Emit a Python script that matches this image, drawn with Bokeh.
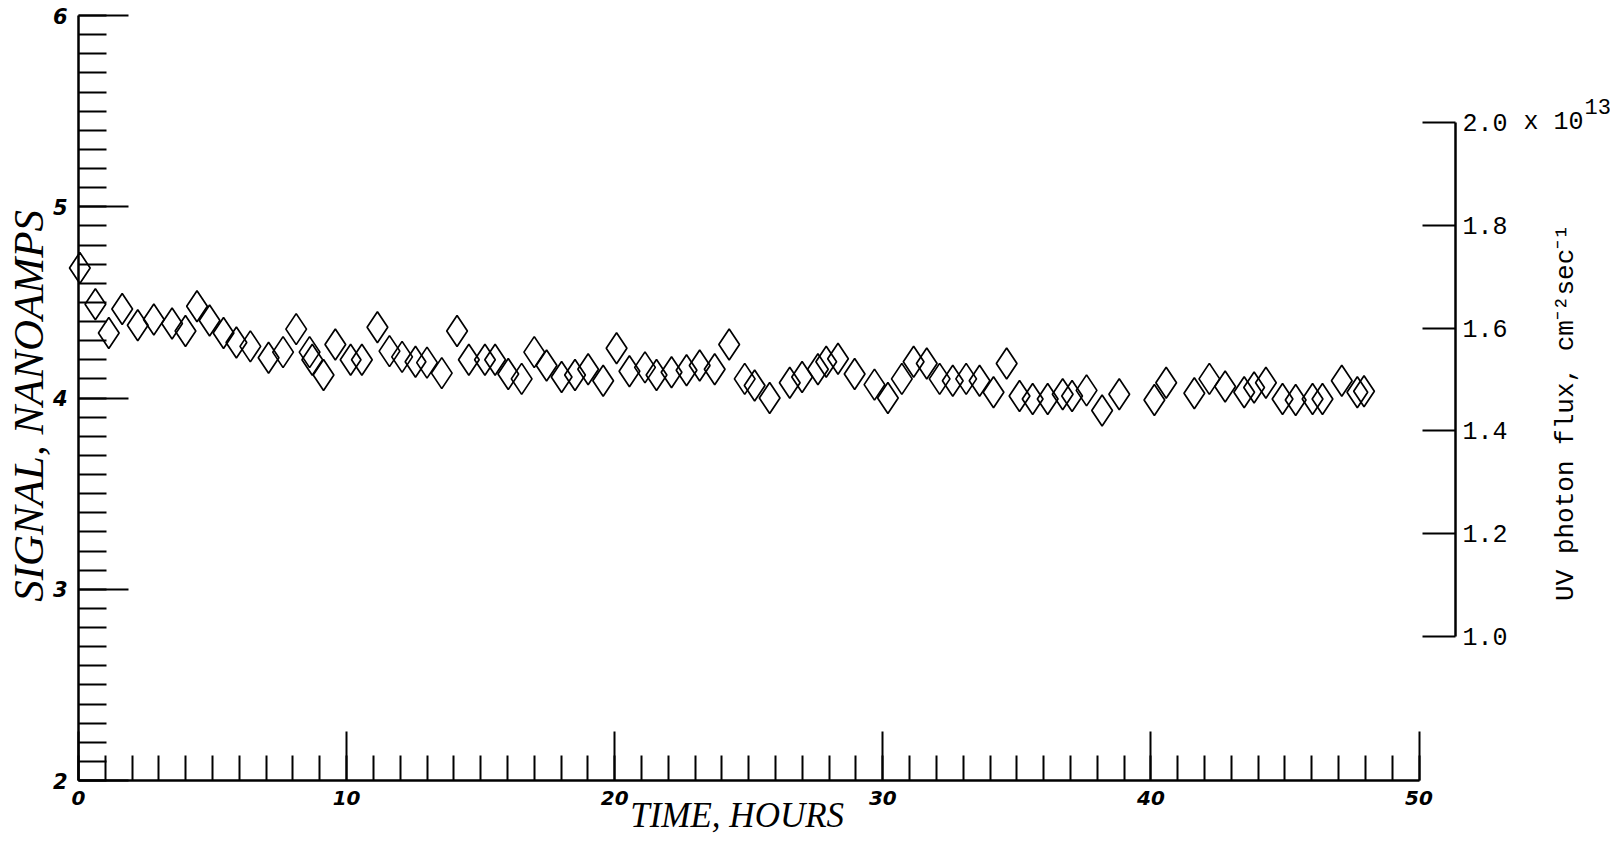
import math
from bokeh.plotting import figure
from bokeh.models import (Range1d, LinearAxis, FixedTicker, Label,
                          ColumnDataSource, PrintfTickFormatter)
from bokeh.embed import file_html
from bokeh.resources import INLINE

# ---------------- data ----------------
time_hours = [0.05, 0.63, 1.13, 1.63, 2.21, 2.81, 3.49, 3.99, 4.42, 4.89,
              5.41, 5.89, 6.41, 7.09, 7.63, 8.12, 8.62, 8.72, 9.14, 9.58,
              10.15, 10.57, 11.15, 11.60, 12.07, 12.57, 13.00, 13.55, 14.12, 14.56,
              15.16, 15.54, 16.03, 16.53, 17.00, 17.46, 18.02, 18.52, 19.01, 19.57,
              20.07, 20.55, 21.13, 21.56, 22.12, 22.68, 23.17, 23.73, 24.27, 24.85,
              25.22, 25.78, 26.53, 26.99, 27.58, 27.89, 28.33, 28.95, 29.69, 30.19,
              30.71, 31.15, 31.64, 32.12, 32.61, 33.11, 33.61, 34.13, 34.62, 35.10,
              35.59, 36.15, 36.71, 37.06, 37.60, 38.18, 38.82, 40.13, 40.57, 41.62,
              42.18, 42.77, 43.48, 43.85, 44.29, 44.91, 45.40, 46.03, 46.40, 47.12,
              47.70, 47.95]
signal_na = [4.68, 4.49, 4.34, 4.465, 4.38, 4.41, 4.39, 4.35, 4.48, 4.405,
             4.34, 4.29, 4.27, 4.21, 4.24, 4.36, 4.24, 4.20, 4.12, 4.28,
             4.20, 4.20, 4.37, 4.245, 4.215, 4.19, 4.185, 4.13, 4.35, 4.20,
             4.20, 4.20, 4.125, 4.10, 4.24, 4.17, 4.11, 4.12, 4.15, 4.09,
             4.26, 4.14, 4.16, 4.12, 4.135, 4.145, 4.17, 4.15, 4.28, 4.10,
             4.065, 4.00, 4.08, 4.11, 4.15, 4.19, 4.205, 4.125, 4.07, 4.00,
             4.10, 4.19, 4.18, 4.10, 4.09, 4.10, 4.09, 4.03, 4.18, 4.01,
             3.995, 3.995, 4.02, 4.01, 4.04, 3.935, 4.02, 3.99, 4.08, 4.025,
             4.10, 4.06, 4.03, 4.055, 4.08, 3.995, 3.99, 3.995, 3.995, 4.09,
             4.03, 4.035]

x_major_ticks = [0, 10, 20, 30, 40, 50]
x_minor_ticks = list(range(0, 51))
y_major_ticks = [2, 3, 4, 5, 6]
y_minor_ticks = [round(2 + 0.1 * i, 1) for i in range(41)]
flux_ticks = [1.0, 1.2, 1.4, 1.6, 1.8, 2.0]
flux_exponent_text = "x 10"
flux_exponent_power = "13"

x_label = "TIME,  HOURS"
y_label = "SIGNAL,  NANOAMPS"
flux_label = "UV photon flux, cm\u207b\u00b2sec\u207b\u00b9"

# ---------------- layout (pixel geometry of the page) ----------------
W, H = 1610, 838
X0_PX, X_PER_UNIT = 78, 26.81          # x = 0 h at 78 px
Y2_PX, Y_PER_UNIT = 780, 191.25        # signal = 2 at 780 px
F1_PX, F_PER_UNIT = 636, 514           # flux = 1.0 at 636 px
FLUX_AXIS_PX = 1455

x_start = -X0_PX / X_PER_UNIT
x_end = (W - X0_PX) / X_PER_UNIT
y_start = 2 - (H - Y2_PX) / Y_PER_UNIT
y_end = 2 + Y2_PX / Y_PER_UNIT
f_start = 1.0 - (H - F1_PX) / F_PER_UNIT
f_end = 1.0 + F1_PX / F_PER_UNIT

def xd(px):
    return (px - X0_PX) / X_PER_UNIT

def yd(px):
    return 2 + (Y2_PX - px) / Y_PER_UNIT

p = figure(width=W, height=H,
           x_range=Range1d(x_start, x_end), y_range=Range1d(y_start, y_end),
           output_backend="svg", toolbar_location=None,
           min_border_left=0, min_border_right=0,
           min_border_top=0, min_border_bottom=0,
           background_fill_color="white", border_fill_color="white")
p.outline_line_color = None
p.xgrid.visible = False
p.ygrid.visible = False
p.extra_y_ranges = {"flux": Range1d(f_start, f_end)}

src = ColumnDataSource(dict(t=time_hours, s=signal_na))
p.scatter("t", "s", source=src, marker="diamond", size=31,
          fill_alpha=0, line_color="black", line_width=1.7)

# x axis (drawn at signal = 2)
xa = p.xaxis[0]
xa.fixed_location = y_major_ticks[0]
xa.ticker = FixedTicker(ticks=x_major_ticks, minor_ticks=x_minor_ticks)
xa.bounds = (x_major_ticks[0], x_major_ticks[-1])
xa.axis_line_width = 2.5
xa.axis_line_color = "black"
xa.major_tick_in = 49
xa.major_tick_out = 0
xa.minor_tick_in = 25
xa.minor_tick_out = 0
xa.major_tick_line_width = 2
xa.minor_tick_line_width = 2
xa.major_tick_line_color = "black"
xa.minor_tick_line_color = "black"
xa.major_label_standoff = 10
xa.major_label_text_font = "DejaVu Sans"
xa.major_label_text_font_style = "bold italic"
xa.major_label_text_font_size = "20px"
xa.major_label_text_color = "black"

# left y axis (drawn at time = 0)
ya = p.yaxis[0]
ya.fixed_location = x_major_ticks[0]
ya.ticker = FixedTicker(ticks=y_major_ticks, minor_ticks=y_minor_ticks)
ya.bounds = (y_major_ticks[0], y_major_ticks[-1])
ya.axis_line_width = 2.5
ya.axis_line_color = "black"
ya.major_tick_in = 50
ya.major_tick_out = 0
ya.minor_tick_in = 28
ya.minor_tick_out = 0
ya.major_tick_line_width = 2
ya.minor_tick_line_width = 2
ya.major_tick_line_color = "black"
ya.minor_tick_line_color = "black"
ya.major_label_standoff = 11
ya.major_label_text_font = "DejaVu Sans"
ya.major_label_text_font_style = "bold italic"
ya.major_label_text_font_size = "21px"
ya.major_label_text_color = "black"

# right flux axis
ra = LinearAxis(y_range_name="flux",
                ticker=FixedTicker(ticks=flux_ticks, minor_ticks=[]),
                formatter=PrintfTickFormatter(format="%.1f"))
ra.fixed_location = xd(FLUX_AXIS_PX)
ra.bounds = (flux_ticks[0], flux_ticks[-1])
ra.axis_line_width = 2.5
ra.axis_line_color = "black"
ra.major_tick_in = 33
ra.major_tick_out = 0
ra.minor_tick_in = 0
ra.minor_tick_out = 0
ra.major_tick_line_width = 2
ra.major_tick_line_color = "black"
ra.major_label_standoff = 7
ra.major_label_text_font = "Liberation Mono"
ra.major_label_text_font_size = "25px"
ra.major_label_text_color = "black"
p.add_layout(ra, "right")

# axis titles
p.add_layout(Label(x=xd(741), y=yd(815), text=x_label,
                   text_font="Liberation Serif", text_font_style="italic",
                   text_font_size="35px", text_align="center",
                   text_baseline="middle", text_color="black"))
p.add_layout(Label(x=xd(28), y=yd(400), text=y_label, angle=math.pi / 2,
                   text_font="Liberation Serif", text_font_style="italic",
                   text_font_size="43px", text_align="center",
                   text_baseline="middle", text_color="black"))
p.add_layout(Label(x=xd(1565), y=1.0 + (F1_PX - 412) / F_PER_UNIT,
                   y_range_name="flux", text=flux_label, angle=math.pi / 2,
                   text_font="Liberation Mono", text_font_size="26px",
                   text_align="center", text_baseline="middle",
                   text_color="black"))

# "x 10^13" multiplier next to the top flux tick
p.add_layout(Label(x=xd(1523), y=flux_ticks[-1], y_range_name="flux",
                   text=flux_exponent_text, text_font="Liberation Mono",
                   text_font_size="25px", text_baseline="middle",
                   text_color="black"))
p.add_layout(Label(x=xd(1523), y=flux_ticks[-1], y_range_name="flux",
                   x_offset=61, y_offset=16,
                   text=flux_exponent_power, text_font="Liberation Mono",
                   text_font_size="22px", text_baseline="middle",
                   text_color="black"))

open("out.html", "w").write(file_html(p, INLINE))
